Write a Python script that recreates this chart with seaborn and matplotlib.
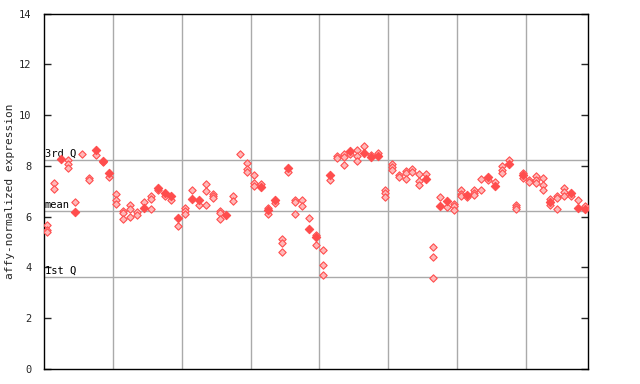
import matplotlib
matplotlib.use("Agg")
import matplotlib.pyplot as plt
import seaborn as sns
import pandas as pd

# values per sample column (x index 0..78); 'filled' flags mark solid diamonds
values = [
    [5.67, 5.48, 5.38], [7.32, 7.09], [8.27], [8.24, 8.07, 7.90], [6.59, 6.17],
    [8.48], [7.52, 7.43], [8.61, 8.43], [8.20, 8.15], [7.72, 7.55],
    [6.90, 6.66, 6.51], [6.23, 6.14, 5.92], [6.45, 6.30, 5.98], [6.20, 6.07], [6.56, 6.36],
    [6.80, 6.69, 6.30], [7.14, 7.06], [6.95, 6.82], [6.80, 6.66], [5.93, 5.64],
    [6.34, 6.24, 6.10], [7.05, 6.68], [6.64, 6.45], [7.30, 7.00, 6.45], [6.90, 6.82, 6.72],
    [6.23, 6.14, 5.90], [6.07], [6.82, 6.61], [8.47], [8.11, 7.89, 7.77],
    [7.63, 7.32, 7.22], [7.28, 7.18], [6.34, 6.27, 6.11], [6.64, 6.53], [5.13, 4.96, 4.60],
    [7.90, 7.77], [6.64, 6.56, 6.10], [6.64, 6.42], [5.94, 5.53], [5.28, 5.19, 4.88],
    [4.69, 4.09, 3.70], [7.63, 7.43], [8.40, 8.31], [8.47, 8.35, 8.05], [8.57, 8.47],
    [8.61, 8.40, 8.19], [8.79, 8.49], [8.44, 8.33], [8.50, 8.37], [7.05, 6.94, 6.77],
    [8.07, 7.95, 7.85], [7.65, 7.56], [7.81, 7.72, 7.48], [7.86, 7.74], [7.66, 7.41, 7.24],
    [7.66, 7.47], [4.82, 4.43, 3.58], [6.77, 6.40], [6.63, 6.37], [6.51, 6.40, 6.28],
    [7.06, 6.90, 6.80], [6.86, 6.76], [7.06, 6.95, 6.86], [7.48, 7.05], [7.58, 7.45],
    [7.36, 7.19], [8.01, 7.85, 7.72], [8.24, 8.06], [6.47, 6.38, 6.30], [7.72, 7.65, 7.51],
    [7.45, 7.36], [7.61, 7.45, 7.32], [7.52, 7.26, 7.06], [6.69, 6.56, 6.47], [6.80, 6.73, 6.32],
    [7.12, 6.99, 6.83], [6.93, 6.82], [6.66, 6.36], [6.43, 6.31],
]
filled = [
    [0, 0, 0], [0, 0], [1], [0, 0, 0], [0, 1],
    [0], [0, 0], [1, 0], [1, 0], [1, 0],
    [0, 0, 0], [0, 0, 0], [0, 0, 0], [0, 0], [0, 1],
    [0, 0, 0], [1, 0], [1, 0], [1, 0], [1, 0],
    [0, 0, 0], [0, 1], [1, 0], [0, 0, 0], [0, 0, 0],
    [0, 0, 0], [1], [0, 0], [0], [0, 0, 0],
    [0, 0, 0], [0, 1], [0, 1, 0], [1, 0], [0, 0, 0],
    [1, 0], [0, 0, 0], [0, 0], [0, 1], [0, 1, 0],
    [0, 0, 0], [1, 0], [0, 0], [0, 0, 0], [1, 0],
    [0, 0, 0], [0, 1], [0, 1], [0, 1], [0, 0, 0],
    [0, 0, 0], [0, 0], [0, 0, 0], [0, 0], [0, 0, 0],
    [0, 1], [0, 0, 0], [0, 1], [1, 0], [0, 0, 0],
    [0, 0, 0], [1, 0], [0, 0, 0], [0, 0], [1, 0],
    [0, 1], [0, 0, 0], [0, 1], [0, 0, 0], [0, 1, 0],
    [0, 0], [0, 0, 0], [0, 0, 0], [0, 1, 0], [0, 0, 0],
    [0, 0, 0], [1, 0], [0, 1], [0, 1],
]
quartile_values = [8.23, 6.23, 3.63]
quartile_labels = ["3rd Q", "mean", "1st Q"]
yticks = [0, 2, 4, 6, 8, 10, 12, 14]
group_bounds = [10, 20, 30, 40, 50, 60, 70]

rows = []
for i, (vals, fl) in enumerate(zip(values, filled)):
    for v, f in zip(vals, fl):
        rows.append({"x": i + 0.5, "y": v, "filled": bool(f)})
df = pd.DataFrame(rows)

sns.set_style("white")
plt.rcParams["font.family"] = ["DejaVu Sans Mono"]

fig = plt.figure(figsize=(6.4, 3.84), dpi=100)
ax = fig.add_axes([44 / 640, 15 / 384, 544 / 640, 355.5 / 384])

red = "#ff4d4d"
for gx in group_bounds:
    ax.axvline(gx, color="#aaaaaa", lw=1, zorder=0)
for qv in quartile_values:
    ax.axhline(qv, color="#aaaaaa", lw=1, zorder=0)

sns.scatterplot(data=df[~df["filled"]], x="x", y="y", marker="D", s=14,
                facecolor="#ffb8b8", edgecolor=red, linewidth=0.8, ax=ax, zorder=3)
sns.scatterplot(data=df[df["filled"]], x="x", y="y", marker="D", s=18,
                color=red, edgecolor=red, linewidth=0.8, ax=ax, zorder=4)

for qv, lab in zip(quartile_values, quartile_labels):
    ax.text(0.1, qv + 0.05, lab, fontsize=7.5, ha="left", va="bottom", color="black")

ax.set_xlim(0, len(values))
ax.set_ylim(0, 14)
ax.set_xticks([])
ax.set_yticks(yticks)
ax.set_yticklabels([str(t) for t in yticks], fontsize=7.5)
ax.tick_params(axis="y", direction="in", length=5, width=1, left=True, right=True, pad=9)
ax.set_xlabel("")
ax.set_ylabel("affy-normalized expression", fontsize=8, labelpad=3)
for sp in ax.spines.values():
    sp.set_color("black")
    sp.set_linewidth(1)
    sp.set_visible(True)

fig.savefig("out.png", dpi=100)
